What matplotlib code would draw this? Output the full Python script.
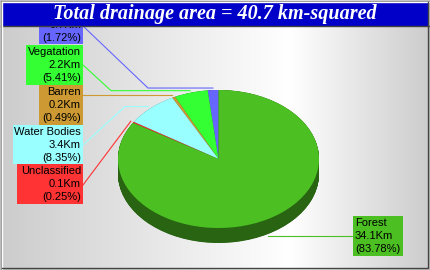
import numpy as np
import matplotlib
matplotlib.use("Agg")
import matplotlib.pyplot as plt
from matplotlib.patches import Rectangle
import matplotlib.colors as mcolors

# ---- data ----
title = "Total drainage area = 40.7 km-squared"
categories = ["Urban", "Vegatation", "Barren", "Water Bodies", "Unclassified", "Forest"]
areas = [0.70, 2.20, 0.20, 3.40, 0.10, 34.10]
colors = ["#6666ff", "#33ff33", "#cc9933", "#99ffff", "#ff3333", "#4cc022"]

W, H = 430, 270
fig = plt.figure(figsize=(W / 100, H / 100), dpi=100)

# background axes in pixel coordinates
bg = fig.add_axes([0, 0, 1, 1])
bg.set_xlim(0, W)
bg.set_ylim(H, 0)
bg.axis("off")
xs = np.linspace(0, 1, 430)
peak = 290 / 430
grad = np.where(xs < peak, 0.80 + 0.20 * xs / peak, 1.0 - 0.20 * (xs - peak) / (1 - peak))
img = np.repeat(grad[None, :], 2, axis=0)
bg.imshow(np.dstack([img, img, img]), extent=(0, W, H, 0), aspect="auto", zorder=0)

# pie geometry (pixels)
cx, cy, rx, ry, depth = 218.5, 159.0, 100.5, 69.0, 15.0
pax = fig.add_axes([(cx - rx) / W, (H - (cy + ry + depth)) / H, 2 * rx / W, (2 * ry + depth) / H])
dark = [tuple(np.array(mcolors.to_rgb(c)) * 0.52) for c in colors]
for d in np.linspace(depth / ry, 0, 40):
    pax.pie(areas, colors=dark, startangle=90, counterclock=True, center=(0, -d),
            wedgeprops=dict(linewidth=0))
pax.pie(areas, colors=colors, startangle=90, counterclock=True,
        wedgeprops=dict(linewidth=0))
pax.set_aspect("auto")
pax.set_xlim(-1, 1)
pax.set_ylim(-1 - depth / ry, 1)
pax.axis("off")

total = sum(areas)
fracs = np.array(areas) / total
mids = 90 + 360 * (np.cumsum(fracs) - fracs / 2)

# label boxes: (x0, x1, y0, y1, text x, align, attach y, elbow x)
boxes = [
    (39, 83, 5, 44, 81, "right", 26, 148),
    (26, 83, 45, 85, 81, "right", 65, 111),
    (39, 83, 85, 125, 81, "right", None, None),
    (13, 83, 125, 164, 81, "right", 145, 125),
    (17, 83, 164, 204, 81, "right", 185, None),
    (353, 403, 216, 256, 355, "left", None, None),
]

for i, (name, a, col) in enumerate(zip(categories, areas, colors)):
    x0, x1, y0, y1, tx, ha, ay, ex = boxes[i]
    ang = np.deg2rad(mids[i])
    if name == "Forest":
        px = cx + rx * np.cos(ang)
        py = cy - ry * np.sin(ang) + depth + 2
        bg.plot([px, x0], [py, py], color=col, lw=0.8, zorder=3)
    else:
        px = cx + rx * 1.03 * np.cos(ang)
        py = cy - ry * 1.03 * np.sin(ang)
        if ay is None:
            ay = py if y0 <= py <= y1 else (y0 + y1) / 2
        ptsx = [x1]
        ptsy = [ay]
        if ex is not None:
            ptsx.append(ex)
            ptsy.append(py)
        ptsx.append(px)
        ptsy.append(py)
        bg.plot(ptsx, ptsy, color=col, lw=0.8, zorder=3)
    bg.add_patch(Rectangle((x0, y0), x1 - x0, y1 - y0, facecolor=col, edgecolor="none", zorder=4))
    lines = [name, f"{a:.1f}Km", f"({100 * a / total:.2f}%)"]
    for j, t in enumerate(lines):
        bg.text(tx, y0 + 7 + 13 * j, t, ha=ha, va="center", fontsize=8,
                family="Liberation Sans", color="black", zorder=5)

# title bar
bg.add_patch(Rectangle((1, 1), W - 2, 24.5, facecolor="#0000c8", edgecolor="none", zorder=8))
bg.plot([1, W - 1], [25.5, 25.5], color="#404040", lw=1, zorder=9)
bg.text(W / 2, 13.5, title, ha="center", va="center", color="white", fontsize=14.5,
        family="Liberation Serif", weight="bold", style="italic", zorder=10)

# border
bg.plot([0.5, W - 0.5, W - 0.5, 0.5, 0.5], [0.5, 0.5, H - 0.5, H - 0.5, 0.5], color="#888888", lw=1, zorder=11)
bg.plot([1.5, W - 1.5], [1.5, 1.5], color="#ffffff", lw=1, zorder=11)
bg.plot([1.5, 1.5], [1.5, H - 1.5], color="#ffffff", lw=1, zorder=11)
bg.plot([1.5, W - 2.5, W - 2.5], [H - 2.5, H - 2.5, 1.5], color="#444444", lw=1, zorder=11)

fig.savefig("out.png", dpi=100)
